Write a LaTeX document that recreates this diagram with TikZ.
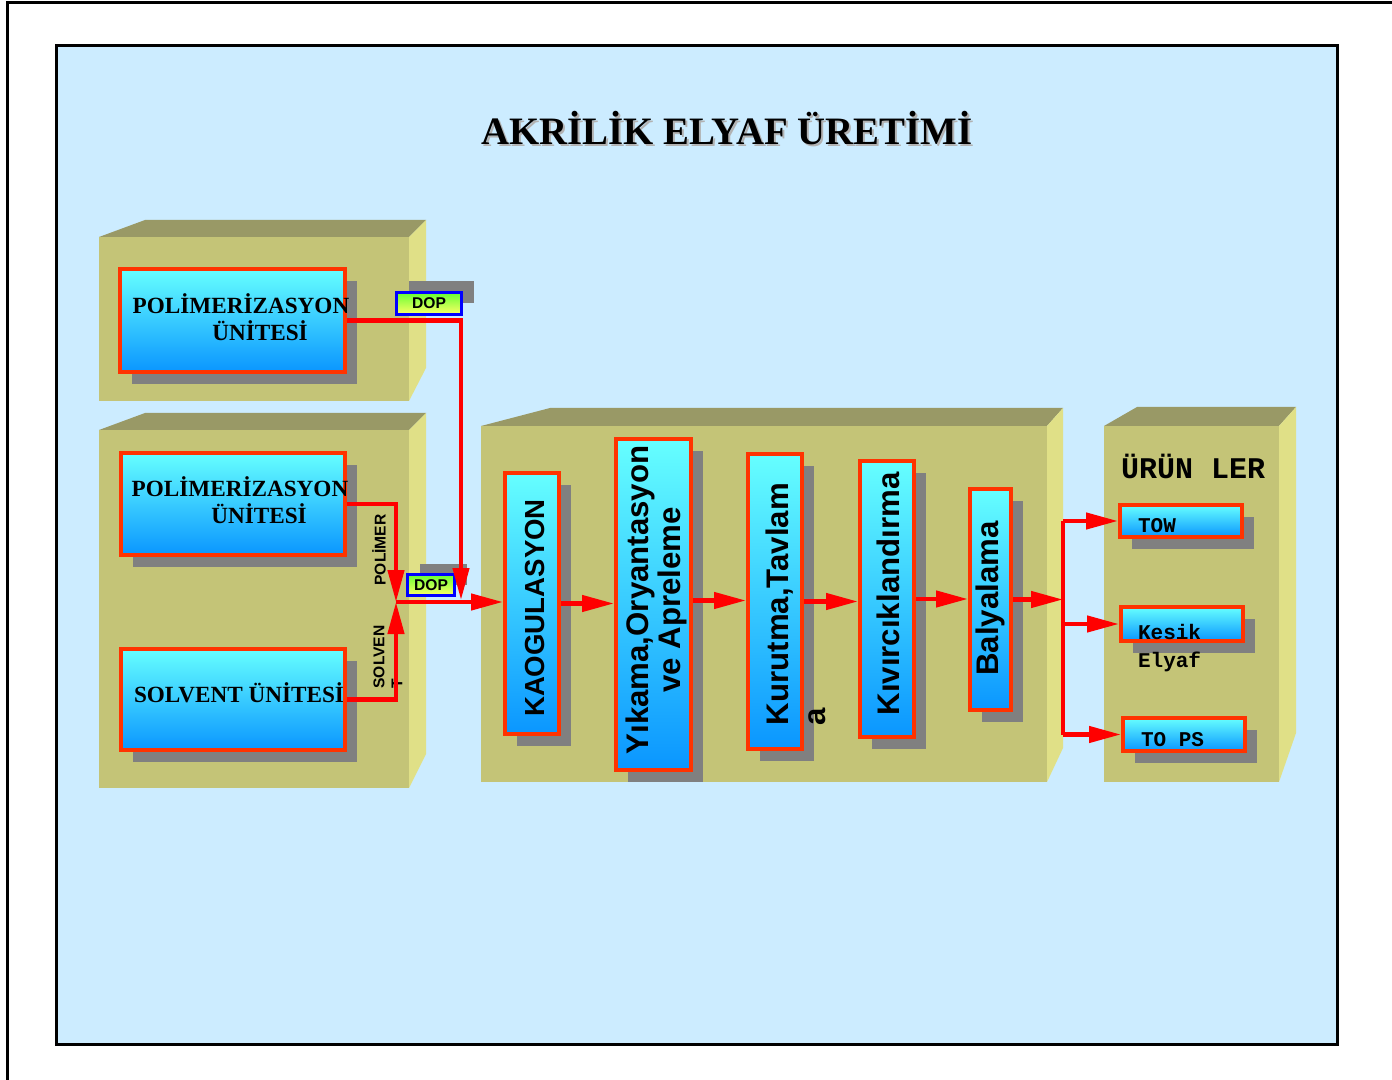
\documentclass[tikz,border=0pt]{standalone}
\usepackage{fontspec}
\setmainfont{Liberation Serif}
\setsansfont{Liberation Sans}
\setmonofont{Liberation Mono}
\usetikzlibrary{arrows.meta, positioning, calc, shadows}

\definecolor{panel}{HTML}{CCECFF}
\definecolor{boxfront}{HTML}{C4C477}
\definecolor{boxtop}{HTML}{999966}
\definecolor{boxside}{HTML}{E0E087}
\definecolor{cyantop}{HTML}{66FFFF}
\definecolor{cyanbot}{HTML}{0A96FF}
\definecolor{brdr}{HTML}{FF3300}
\definecolor{shd}{HTML}{808080}
\definecolor{doptop}{HTML}{66FF33}
\definecolor{dopbot}{HTML}{FFFF66}

\begin{document}
\begin{tikzpicture}[x=0.5pt, y=-0.5pt,
    unitbox/.style={draw=brdr, line width=2pt, top color=cyantop, bottom color=cyanbot, inner sep=0pt,
      drop shadow={shadow xshift=6pt, shadow yshift=-6pt, fill=shd, opacity=1}},
    dopbox/.style={draw=blue, line width=1.5pt, top color=doptop, bottom color=dopbot, inner sep=0pt,
      minimum height=11pt, font=\sffamily\bfseries\fontsize{7.8}{9}\selectfont,
      drop shadow={shadow xshift=6pt, shadow yshift=5.5pt, fill=shd, opacity=1}},
    unittext/.style={font=\bfseries\fontsize{11.6}{13.5}\selectfont, align=center},
    vtext/.style={rotate=90, font=\sffamily\bfseries\fontsize{15.6}{16}\selectfont, align=center},
    smalltext/.style={rotate=90, font=\sffamily\bfseries\fontsize{7.8}{9}\selectfont, align=left},
    prodtext/.style={font=\ttfamily\bfseries\fontsize{10.5}{14}\selectfont, align=left},
    flow/.style={draw=red, line width=2.2pt, -{Triangle[length=16pt, width=8pt]}},
    redline/.style={draw=red, line width=2.2pt}]
  \useasboundingbox (0,0) rectangle (1392,1080);

  % frames
  \draw[line width=1.5pt] (7,1080) -- (7,3) -- (1392,3);
  \draw[fill=panel, line width=1.5pt] (56,46) rectangle (1337,1044);

  % title
  \node[font=\bfseries\fontsize{19.4}{22}\selectfont, text=gray!60, anchor=base] (titleshd) at (729,147) {AKRİLİK ELYAF ÜRETİMİ};
  \node[font=\bfseries\fontsize{19.4}{22}\selectfont, anchor=base] (title) at (727,145) {AKRİLİK ELYAF ÜRETİMİ};

  % 3d blocks
  \foreach \xa/\ya/\xb/\yb/\xc/\xd/\yt/\yr in {99/237/409/401/145/426/220/368,
      99/430/409/788/145/426/413/754, 481/426/1047/782/550/1063/408/748,
      1104/426/1279/782/1137/1296/407/733}
  {
    \fill[boxtop] (\xa,\ya) -- (\xc,\yt) -- (\xd,\yt) -- (\xb,\ya) -- cycle;
    \fill[boxside] (\xb,\ya) -- (\xd,\yt) -- (\xd,\yr) -- (\xb,\yb) -- cycle;
    \fill[boxfront] (\xa,\ya) rectangle (\xb,\yb);
  }

  % units
  \node[unitbox, minimum width=112.5pt, minimum height=51.5pt] (poly1) at (232.5,320.5) {};
  \node[unitbox, minimum width=112pt, minimum height=51pt] (poly2) at (233,504) {};
  \node[unitbox, minimum width=112pt, minimum height=50.5pt] (solv) at (233,699.5) {};
  \node[unittext] (poly1txt) at (241,317) {POLİMERİZASYON\\\hspace*{19pt}ÜNİTESİ};
  \node[unittext] (poly2txt) at (240,500) {POLİMERİZASYON\\\hspace*{19pt}ÜNİTESİ};
  \node[unittext] (solvtxt) at (239,693) {SOLVENT ÜNİTESİ};

  \node[dopbox, minimum width=32.5pt] (dop1) at (429,303.5) {DOP};
  \node[dopbox, minimum width=23.5pt, minimum height=10.5pt] (dop2) at (431,585) {DOP};

  \node[smalltext] (poltxt) at (379,550) {POLİMER};
  \node[smalltext] (soltxt) at (388,657) {SOLVEN\\T};

  % process line
  \node[unitbox, minimum width=27pt, minimum height=130.5pt] (kaog) at (532,603.5) {};
  \node[unitbox, minimum width=37.5pt, minimum height=165.5pt] (yika) at (653.5,604.5) {};
  \node[unitbox, minimum width=27pt, minimum height=147.5pt] (kurut) at (775,601.5) {};
  \node[unitbox, minimum width=27pt, minimum height=138pt] (kivir) at (887,599) {};
  \node[unitbox, minimum width=20.5pt, minimum height=110.5pt] (balya) at (990.5,599.5) {};

  \node[vtext, font=\sffamily\bfseries\fontsize{13.8}{16}\selectfont] (kaogtxt) at (535,608) {KAOGULASYON};
  \node[vtext] (yikatxt) at (656,600) {Yıkama,Oryantasyon\\ve Apreleme};
  \node[vtext, align=left, font=\sffamily\bfseries\fontsize{15.6}{18.5}\selectfont] (kuruttxt) at (796,604) {Kurutma,Tavlam\\a};
  \node[vtext] (kivirtxt) at (888,594) {Kıvırcıklandırma};
  \node[vtext] (balyatxt) at (990,598.5) {Balyalama};

  % products
  \node[font=\ttfamily\bfseries\fontsize{15}{18}\selectfont, anchor=base] (urun) at (1193,479) {ÜRÜN LER};
  \node[unitbox, minimum width=61pt, minimum height=16pt] (tow) at (1181,521) {};
  \node[unitbox, minimum width=61pt, minimum height=17pt] (kesik) at (1182,624) {};
  \node[unitbox, minimum width=61pt, minimum height=16.5pt] (tops) at (1184,734.5) {};
  \node[prodtext, anchor=base west] (towtxt) at (1131,532) {TOW};
  \node[prodtext, anchor=north west] (kesiktxt) at (1131,617) {Kesik\\Elyaf};
  \node[prodtext, anchor=base west] (topstxt) at (1134,746) {TO PS};

  % connectors
  \coordinate (dopin) at (461,600);
  \coordinate (join) at (396,602);
  \coordinate (split) at (1063,599);
  \draw[flow] (poly1.east) -| (dopin);
  \draw[flow] (poly2.east) -| (join);
  \draw[flow] (solv.east) -| (join);
  \draw[flow] (join) -- (kaog.west |- join);
  \draw[flow] (kaog.east) -- (kaog.east -| yika.west);
  \draw[flow] ([yshift=2pt]yika.east) -- ([yshift=2pt]yika.east -| kurut.west);
  \draw[flow] (kurut.east) -- (kurut.east -| kivir.west);
  \draw[flow] (kivir.east) -- (kivir.east -| balya.west);
  \draw[flow] (balya.east) -- (balya.east -| split);
  \draw[redline] (tow.west -| split) -- (tops.west -| split);
  \draw[flow] (tow.west -| split) -- (tow.west);
  \draw[flow] (kesik.west -| split) -- (kesik.west);
  \draw[flow] (tops.west -| split) -- (tops.west);
\end{tikzpicture}
\end{document}
